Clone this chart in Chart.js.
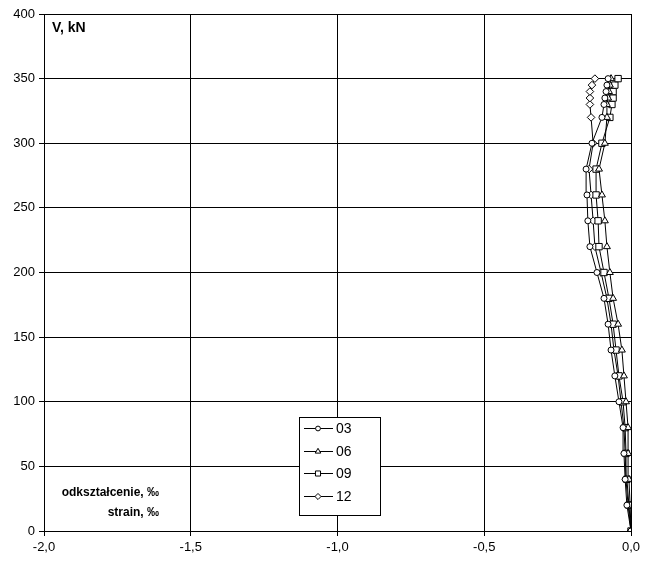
<!DOCTYPE html>
<html>
<head>
<meta charset="utf-8">
<script src="https://cdn.jsdelivr.net/npm/chart.js@4"></script>
<style>
  body { margin: 0; background: #fff; }
  #wrap { width: 648px; height: 565px; }
</style>
</head>
<body>
<div id="wrap"><canvas id="myChart" width="648" height="565"></canvas></div>
<script>
// load steps, kN
const loads = [0, 20, 40, 60, 80, 100, 120, 140, 160, 180, 200, 220, 240, 260, 280, 300, 320, 330, 335, 340, 345, 350];
// strain, permille, one array per gauge
const s03 = [0, -0.014, -0.020, -0.024, -0.027, -0.041, -0.055, -0.068, -0.078, -0.092, -0.116, -0.140, -0.147, -0.150, -0.153, -0.133, -0.099, -0.092, -0.089, -0.085, -0.082, -0.078];
const s06 = [0, -0.003, -0.007, -0.010, -0.010, -0.017, -0.024, -0.031, -0.044, -0.061, -0.072, -0.082, -0.089, -0.099, -0.109, -0.089, -0.082, -0.082, -0.078, -0.075, -0.072, -0.068];
const s09 = [0, -0.007, -0.014, -0.017, -0.020, -0.027, -0.041, -0.051, -0.061, -0.075, -0.092, -0.109, -0.112, -0.119, -0.119, -0.099, -0.072, -0.065, -0.061, -0.061, -0.055, -0.044];
const s12 = [0, -0.010, -0.017, -0.020, -0.024, -0.034, -0.044, -0.058, -0.068, -0.082, -0.102, -0.123, -0.129, -0.136, -0.143, -0.129, -0.136, -0.140, -0.140, -0.140, -0.133, -0.123];
const seriesNames = ['03', '06', '09', '12'];
const markers = ['circle', 'triangle', 'rect', 'rectRot'];
const markerSize = { circle: 3, triangle: 4, rect: 4.5, rectRot: 3.8 };

const font = 'Liberation Sans, Arial, sans-serif';

function toPoints(xs) {
    return xs.map((x, i) => ({ x: x, y: loads[i] }));
}

const datasets = [s03, s06, s09, s12].map((s, i) => ({
    label: seriesNames[i],
    data: toPoints(s),
    showLine: true,
    borderColor: '#000',
    borderWidth: 1,
    backgroundColor: '#fff',
    pointStyle: markers[i],
    pointRadius: markerSize[markers[i]],
    pointBorderColor: '#000',
    pointBackgroundColor: '#fff',
    pointBorderWidth: 1
}));

// texts and legend box drawn inside the plot
const extras = {
    id: 'extras',
    afterDraw(chart) {
        const c = chart.ctx;
        const a = chart.chartArea;
        c.save();
        c.fillStyle = '#000';
        c.textBaseline = 'middle';
        c.textAlign = 'left';
        c.font = 'bold 14px ' + font;
        c.fillText('V, kN', a.left + 8, a.top + 14);
        c.font = 'bold 12px ' + font;
        c.textAlign = 'right';
        c.fillText('odkształcenie, ‰', 159, 493);
        c.fillText('strain, ‰', 159, 513);

        // legend
        const bx = 299, by = 417, bw = 81, bh = 98;
        c.fillStyle = '#fff';
        c.fillRect(bx, by, bw, bh);
        c.strokeStyle = '#000';
        c.lineWidth = 1;
        c.strokeRect(bx + 0.5, by + 0.5, bw, bh);
        c.font = '14px ' + font;
        c.textAlign = 'left';
        chart.data.datasets.forEach((ds, i) => {
            const y = Math.round(by + 11 + i * 22.7) + 0.5;
            c.strokeStyle = '#000';
            c.beginPath();
            c.moveTo(bx + 5, y);
            c.lineTo(bx + 34, y);
            c.stroke();
            c.fillStyle = '#fff';
            Chart.helpers.drawPoint(c, {
                pointStyle: ds.pointStyle,
                radius: ds.pointRadius * 0.8,
                borderWidth: 1
            }, bx + 19, y);
            c.fillStyle = '#000';
            c.fillText(ds.label, bx + 37, y + 0.5);
        });
        c.restore();
    }
};

new Chart(document.getElementById('myChart'), {
    type: 'scatter',
    data: { datasets: datasets },
    options: {
        responsive: false,
        animation: false,
        layout: { padding: { top: 14, right: 17, left: 0, bottom: 0 } },
        plugins: {
            legend: { display: false },
            tooltip: { enabled: false }
        },
        scales: {
            x: {
                min: -2,
                max: 0,
                afterFit(scale) { scale.height = 34; },
                afterBuildTicks(scale) {
                    scale.ticks = [-2, -1.5, -1, -0.5, 0].map(v => ({ value: v }));
                },
                border: { color: '#000', width: 1 },
                grid: { color: '#000', lineWidth: 1, tickLength: 5, drawTicks: true },
                ticks: {
                    color: '#000',
                    font: { family: font, size: 13 },
                    padding: 4,
                    maxRotation: 0,
                    callback: v => v.toFixed(1).replace('.', ',')
                }
            },
            y: {
                min: 0,
                max: 400,
                afterFit(scale) { scale.width = 44; },
                border: { color: '#000', width: 1 },
                grid: { color: '#000', lineWidth: 1, tickLength: 5, drawTicks: true },
                ticks: {
                    stepSize: 50,
                    color: '#000',
                    font: { family: font, size: 13 },
                    padding: 4
                }
            }
        }
    },
    plugins: [extras]
});
</script>
</body>
</html>
